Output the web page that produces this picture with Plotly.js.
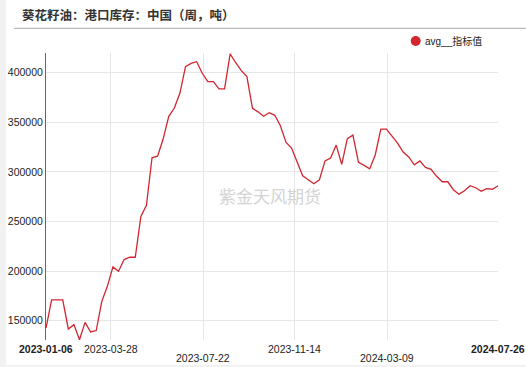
<!DOCTYPE html>
<html>
<head>
<meta charset="utf-8">
<script src="https://cdn.plot.ly/plotly-3.0.1.min.js"></script>
<style>
html,body{margin:0;padding:0;background:#f2f2f2;width:526px;height:367px;overflow:hidden;}
#chart{position:absolute;left:6px;top:0;width:520px;height:365px;background:#fff;}
</style>
</head>
<body>
<div id="chart"></div>
<script>
const dates = [
"2023-01-06","2023-01-13","2023-01-20","2023-01-27","2023-02-03","2023-02-10","2023-02-17","2023-02-24",
"2023-03-03","2023-03-10","2023-03-17","2023-03-24","2023-03-31","2023-04-07","2023-04-14","2023-04-21",
"2023-04-28","2023-05-05","2023-05-12","2023-05-19","2023-05-26","2023-06-02","2023-06-09","2023-06-16",
"2023-06-23","2023-06-30","2023-07-07","2023-07-14","2023-07-21","2023-07-28","2023-08-04","2023-08-11",
"2023-08-18","2023-08-25","2023-09-01","2023-09-08","2023-09-15","2023-09-22","2023-09-29","2023-10-06",
"2023-10-13","2023-10-20","2023-10-27","2023-11-03","2023-11-10","2023-11-17","2023-11-24","2023-12-01",
"2023-12-08","2023-12-15","2023-12-22","2023-12-29",
"2024-01-05","2024-01-12","2024-01-19","2024-01-26","2024-02-02","2024-02-09","2024-02-16","2024-02-23",
"2024-03-01","2024-03-08","2024-03-15","2024-03-22","2024-03-29","2024-04-05","2024-04-12","2024-04-19",
"2024-04-26","2024-05-03","2024-05-10","2024-05-17","2024-05-24","2024-05-31","2024-06-07","2024-06-14",
"2024-06-21","2024-06-28","2024-07-05","2024-07-12","2024-07-19","2024-07-26"];

const values = [
142600,171000,171000,171000,141600,146000,130800,148300,138600,140000,
169500,184600,204200,199800,211600,213900,213900,255000,266200,314200,
315800,333300,355900,364300,379400,406000,409400,411000,399400,391000,
391000,383700,383700,419000,410000,402000,396000,364000,360500,356000,
359600,357000,346500,330000,324000,310500,296000,292000,288000,292000,
311000,314000,327000,307500,333500,337000,309500,306500,303000,317000,
343000,343000,336500,329000,320000,315000,307000,311000,304500,302500,
295500,290000,290000,282000,277500,281000,286000,284000,280500,283000,
282500,286000];

const xTickVals = ["2023-01-06","2023-03-28","2023-07-22","2023-11-14","2024-03-09","2024-07-26"];
const xTickText = ["2023-01-06","2023-03-28","2023-07-22","2023-11-14","2024-03-09","2024-07-26"];
const xTickRow  = [0,0,1,0,1,0];
const yTickVals = [150000,200000,250000,300000,350000,400000];
const titleText = "葵花籽油：港口库存：中国（周，吨）";
const seriesName = "avg__指标值";
const watermark = "紫金天风期货";

const lineColor = "#d22630";
const fontBase = "Liberation Sans, Arial, sans-serif";

const ann = xTickVals.map((d,i)=>({
  x: d, xref:'x', yref:'paper',
  y: xTickRow[i] ? -0.0627 : -0.0314,
  yanchor:'middle', xanchor:'center', showarrow:false,
  text: (i===0 || i===xTickVals.length-1) ? '<b>'+xTickText[i]+'</b>' : xTickText[i],
  font:{family:fontBase,size:10.5,color:'#222'}
}));
ann.push({xref:'paper',yref:'paper',x:0.4956,y:0.505,xanchor:'center',yanchor:'middle',showarrow:false,
  text:watermark,font:{family:"Noto Sans CJK SC, sans-serif",size:17,color:'#d4d4d4'}});
ann.push({xref:'paper',yref:'paper',x:0.834,y:1.0418,xanchor:'left',yanchor:'middle',showarrow:false,
  text:seriesName,font:{family:"Liberation Sans, Noto Sans CJK SC, sans-serif",size:10,color:'#222'}});

const trace = {x:dates,y:values,type:'scatter',mode:'lines',name:seriesName,
  line:{color:lineColor,width:1.3},showlegend:false,hoverinfo:'skip'};

const layout = {
  width:520,height:365,
  margin:{l:40,r:28,t:53,b:25,pad:0},
  paper_bgcolor:'#fff',plot_bgcolor:'#fff',
  title:{text:'<b>'+titleText+'</b>',xref:'container',yref:'container',x:16/520,xanchor:'left',
    y:1-15.7/365,yanchor:'middle',font:{family:"Noto Sans CJK SC, sans-serif",size:12.5,color:'#333'}},
  xaxis:{type:'date',range:['2023-01-06','2024-07-26'],tickvals:xTickVals,showticklabels:false,
    showgrid:true,gridcolor:'#e6e6e6',gridwidth:1,zeroline:false,showline:false,ticks:''},
  yaxis:{range:[130500,419800],tickvals:yTickVals,tickformat:'d',showgrid:true,gridcolor:'#e6e6e6',
    zeroline:false,showline:true,linecolor:'#666',linewidth:1,ticks:'',
    tickfont:{family:fontBase,size:10.5,color:'#222'}},
  shapes:[
    {type:'line',xref:'paper',yref:'paper',x0:-0.0708,x1:1.062,y0:1.086,y1:1.086,line:{color:'#aaa',width:1}},
    {type:'circle',xref:'paper',yref:'paper',x0:0.8069,x1:0.829,y0:1.0244,y1:1.0592,
      fillcolor:lineColor,line:{color:lineColor,width:0}}
  ],
  annotations:ann,
  showlegend:false
};
Plotly.newPlot('chart',[trace],layout,{displayModeBar:false,staticPlot:true});
</script>
</body>
</html>
